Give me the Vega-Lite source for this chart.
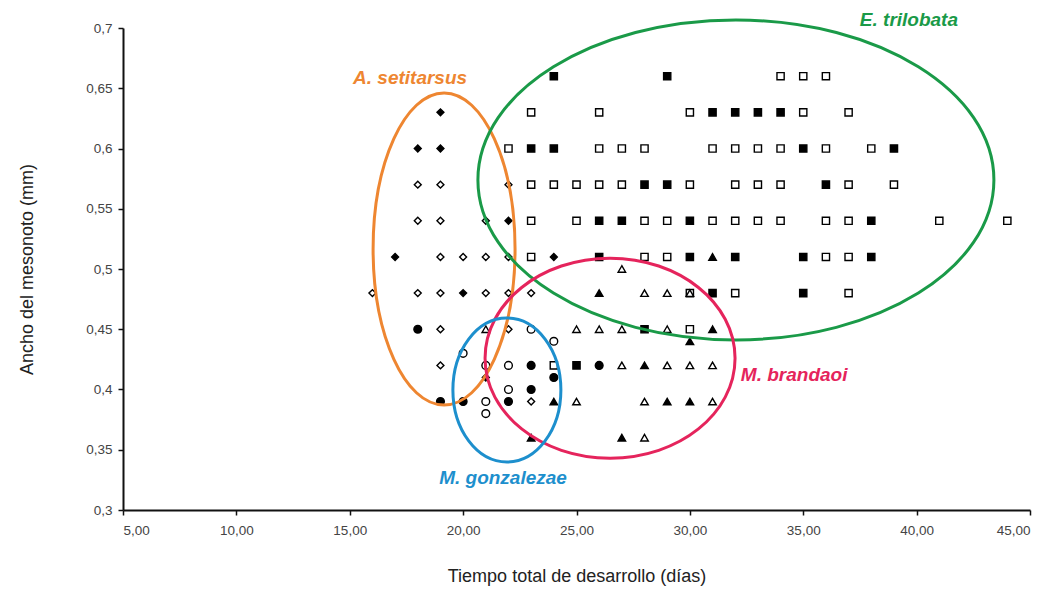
{
  "$schema": "https://vega.github.io/schema/vega-lite/v6.json",
  "autosize": {"type": "none"},
  "width": 907,
  "height": 482,
  "padding": {"left": 123, "top": 28, "right": 26, "bottom": 91},
  "background": "white",
  "config": {
    "view": {"stroke": null},
    "axis": {
      "domainColor": "#111",
      "domainWidth": 2,
      "tickColor": "#111",
      "tickWidth": 1.5,
      "tickSize": 5,
      "grid": false,
      "labelFont": "Liberation Sans",
      "labelFontSize": 13.5,
      "labelColor": "#444",
      "titleFont": "Liberation Sans",
      "titleFontSize": 18,
      "titleFontWeight": "normal",
      "titleColor": "#222"
    }
  },
  "datasets": {
    "pts": [
      {"x": 24, "y": 0.66, "s": "E", "f": 1}, {"x": 29, "y": 0.66, "s": "E", "f": 1}, {"x": 34, "y": 0.66, "s": "E", "f": 0}, {"x": 35, "y": 0.66, "s": "E", "f": 0}, {"x": 36, "y": 0.66, "s": "E", "f": 0},
      {"x": 19, "y": 0.63, "s": "A", "f": 1}, {"x": 23, "y": 0.63, "s": "E", "f": 0}, {"x": 26, "y": 0.63, "s": "E", "f": 0}, {"x": 30, "y": 0.63, "s": "E", "f": 0}, {"x": 31, "y": 0.63, "s": "E", "f": 1}, {"x": 32, "y": 0.63, "s": "E", "f": 1}, {"x": 33, "y": 0.63, "s": "E", "f": 1}, {"x": 34, "y": 0.63, "s": "E", "f": 1}, {"x": 35, "y": 0.63, "s": "E", "f": 0}, {"x": 37, "y": 0.63, "s": "E", "f": 0},
      {"x": 18, "y": 0.6, "s": "A", "f": 1}, {"x": 19, "y": 0.6, "s": "A", "f": 1}, {"x": 22, "y": 0.6, "s": "E", "f": 0}, {"x": 23, "y": 0.6, "s": "E", "f": 1}, {"x": 24, "y": 0.6, "s": "E", "f": 1}, {"x": 26, "y": 0.6, "s": "E", "f": 0}, {"x": 27, "y": 0.6, "s": "E", "f": 0}, {"x": 28, "y": 0.6, "s": "E", "f": 0}, {"x": 31, "y": 0.6, "s": "E", "f": 0}, {"x": 32, "y": 0.6, "s": "E", "f": 0}, {"x": 33, "y": 0.6, "s": "E", "f": 0}, {"x": 34, "y": 0.6, "s": "E", "f": 0}, {"x": 35, "y": 0.6, "s": "E", "f": 1}, {"x": 36, "y": 0.6, "s": "E", "f": 0}, {"x": 38, "y": 0.6, "s": "E", "f": 0}, {"x": 39, "y": 0.6, "s": "E", "f": 1},
      {"x": 18, "y": 0.57, "s": "A", "f": 0}, {"x": 19, "y": 0.57, "s": "A", "f": 0}, {"x": 22, "y": 0.57, "s": "A", "f": 0}, {"x": 23, "y": 0.57, "s": "E", "f": 0}, {"x": 24, "y": 0.57, "s": "E", "f": 0}, {"x": 25, "y": 0.57, "s": "E", "f": 0}, {"x": 26, "y": 0.57, "s": "E", "f": 0}, {"x": 27, "y": 0.57, "s": "E", "f": 0}, {"x": 28, "y": 0.57, "s": "E", "f": 1}, {"x": 29, "y": 0.57, "s": "E", "f": 1}, {"x": 30, "y": 0.57, "s": "E", "f": 0}, {"x": 32, "y": 0.57, "s": "E", "f": 0}, {"x": 33, "y": 0.57, "s": "E", "f": 0}, {"x": 34, "y": 0.57, "s": "E", "f": 0}, {"x": 36, "y": 0.57, "s": "E", "f": 1}, {"x": 37, "y": 0.57, "s": "E", "f": 0}, {"x": 39, "y": 0.57, "s": "E", "f": 0},
      {"x": 18, "y": 0.54, "s": "A", "f": 0}, {"x": 19, "y": 0.54, "s": "A", "f": 0}, {"x": 21, "y": 0.54, "s": "A", "f": 0}, {"x": 22, "y": 0.54, "s": "A", "f": 1}, {"x": 23, "y": 0.54, "s": "E", "f": 0}, {"x": 25, "y": 0.54, "s": "E", "f": 0}, {"x": 26, "y": 0.54, "s": "E", "f": 1}, {"x": 27, "y": 0.54, "s": "E", "f": 1}, {"x": 28, "y": 0.54, "s": "E", "f": 0}, {"x": 29, "y": 0.54, "s": "E", "f": 0}, {"x": 30, "y": 0.54, "s": "E", "f": 1}, {"x": 31, "y": 0.54, "s": "E", "f": 0}, {"x": 32, "y": 0.54, "s": "E", "f": 0}, {"x": 33, "y": 0.54, "s": "E", "f": 0}, {"x": 34, "y": 0.54, "s": "E", "f": 0}, {"x": 36, "y": 0.54, "s": "E", "f": 0}, {"x": 37, "y": 0.54, "s": "E", "f": 0}, {"x": 38, "y": 0.54, "s": "E", "f": 1}, {"x": 41, "y": 0.54, "s": "E", "f": 0}, {"x": 44, "y": 0.54, "s": "E", "f": 0},
      {"x": 17, "y": 0.51, "s": "A", "f": 1}, {"x": 19, "y": 0.51, "s": "A", "f": 0}, {"x": 20, "y": 0.51, "s": "A", "f": 0}, {"x": 21, "y": 0.51, "s": "A", "f": 0}, {"x": 22, "y": 0.51, "s": "A", "f": 0}, {"x": 23, "y": 0.51, "s": "E", "f": 0}, {"x": 24, "y": 0.51, "s": "A", "f": 1}, {"x": 26, "y": 0.51, "s": "E", "f": 1}, {"x": 28, "y": 0.51, "s": "E", "f": 0}, {"x": 29, "y": 0.51, "s": "E", "f": 0}, {"x": 30, "y": 0.51, "s": "E", "f": 1}, {"x": 31, "y": 0.51, "s": "B", "f": 1}, {"x": 32, "y": 0.51, "s": "E", "f": 1}, {"x": 35, "y": 0.51, "s": "E", "f": 1}, {"x": 36, "y": 0.51, "s": "E", "f": 0}, {"x": 37, "y": 0.51, "s": "E", "f": 0}, {"x": 38, "y": 0.51, "s": "E", "f": 1},
      {"x": 27, "y": 0.5, "s": "B", "f": 0},
      {"x": 16, "y": 0.48, "s": "A", "f": 0}, {"x": 18, "y": 0.48, "s": "A", "f": 0}, {"x": 19, "y": 0.48, "s": "A", "f": 0}, {"x": 20, "y": 0.48, "s": "A", "f": 1}, {"x": 21, "y": 0.48, "s": "A", "f": 0}, {"x": 22, "y": 0.48, "s": "A", "f": 0}, {"x": 23, "y": 0.48, "s": "A", "f": 0}, {"x": 26, "y": 0.48, "s": "B", "f": 1}, {"x": 28, "y": 0.48, "s": "B", "f": 0}, {"x": 29, "y": 0.48, "s": "B", "f": 0}, {"x": 30, "y": 0.48, "s": "E", "f": 0}, {"x": 30, "y": 0.48, "s": "B", "f": 0}, {"x": 31, "y": 0.48, "s": "E", "f": 1}, {"x": 32, "y": 0.48, "s": "E", "f": 0}, {"x": 35, "y": 0.48, "s": "E", "f": 1}, {"x": 37, "y": 0.48, "s": "E", "f": 0},
      {"x": 18, "y": 0.45, "s": "G", "f": 1}, {"x": 19, "y": 0.45, "s": "A", "f": 0}, {"x": 21, "y": 0.45, "s": "B", "f": 0}, {"x": 22, "y": 0.45, "s": "A", "f": 0}, {"x": 23, "y": 0.45, "s": "G", "f": 0}, {"x": 25, "y": 0.45, "s": "B", "f": 0}, {"x": 26, "y": 0.45, "s": "B", "f": 0}, {"x": 27, "y": 0.45, "s": "B", "f": 0}, {"x": 28, "y": 0.45, "s": "E", "f": 1}, {"x": 29, "y": 0.45, "s": "B", "f": 0}, {"x": 30, "y": 0.45, "s": "E", "f": 0}, {"x": 31, "y": 0.45, "s": "B", "f": 1},
      {"x": 30, "y": 0.44, "s": "B", "f": 1}, {"x": 24, "y": 0.44, "s": "G", "f": 0},
      {"x": 20, "y": 0.43, "s": "G", "f": 0},
      {"x": 19, "y": 0.42, "s": "A", "f": 0}, {"x": 21, "y": 0.42, "s": "G", "f": 0}, {"x": 22, "y": 0.42, "s": "G", "f": 0}, {"x": 23, "y": 0.42, "s": "G", "f": 1}, {"x": 24, "y": 0.42, "s": "E", "f": 0}, {"x": 25, "y": 0.42, "s": "E", "f": 1}, {"x": 26, "y": 0.42, "s": "G", "f": 1}, {"x": 27, "y": 0.42, "s": "B", "f": 0}, {"x": 28, "y": 0.42, "s": "B", "f": 1}, {"x": 29, "y": 0.42, "s": "B", "f": 0}, {"x": 30, "y": 0.42, "s": "B", "f": 0}, {"x": 31, "y": 0.42, "s": "B", "f": 0},
      {"x": 21, "y": 0.41, "s": "A", "f": 1}, {"x": 24, "y": 0.41, "s": "G", "f": 1},
      {"x": 22, "y": 0.4, "s": "G", "f": 0}, {"x": 23, "y": 0.4, "s": "G", "f": 1},
      {"x": 19, "y": 0.39, "s": "G", "f": 1}, {"x": 20, "y": 0.39, "s": "G", "f": 1}, {"x": 21, "y": 0.39, "s": "G", "f": 0}, {"x": 22, "y": 0.39, "s": "G", "f": 1}, {"x": 23, "y": 0.39, "s": "A", "f": 0}, {"x": 24, "y": 0.39, "s": "B", "f": 1}, {"x": 25, "y": 0.39, "s": "B", "f": 0}, {"x": 28, "y": 0.39, "s": "B", "f": 0}, {"x": 29, "y": 0.39, "s": "B", "f": 1}, {"x": 30, "y": 0.39, "s": "B", "f": 1}, {"x": 31, "y": 0.39, "s": "B", "f": 0},
      {"x": 21, "y": 0.38, "s": "G", "f": 0},
      {"x": 23, "y": 0.36, "s": "B", "f": 1}, {"x": 27, "y": 0.36, "s": "B", "f": 1}, {"x": 28, "y": 0.36, "s": "B", "f": 0}
    ],
    "grupos": [
      {"grupo": "A. setitarsus", "cx": 19.16, "cy": 0.5166, "lx": 17.66, "ly": 0.6585},
      {"grupo": "E. trilobata", "cx": 32.03, "cy": 0.5739, "lx": 39.66, "ly": 0.7066},
      {"grupo": "M. brandaoi", "cx": 26.48, "cy": 0.426, "lx": 34.6, "ly": 0.412},
      {"grupo": "M. gonzalezae", "cx": 21.93, "cy": 0.3996, "lx": 21.76, "ly": 0.3266}
    ]
  },
  "layer": [
    {
      "data": {"name": "pts"},
      "mark": {"type": "point", "filled": true, "stroke": "#000", "strokeWidth": 1.4, "opacity": 1},
      "encoding": {
        "x": {
          "field": "x", "type": "quantitative",
          "scale": {"domain": [5, 45], "nice": false, "zero": false},
          "axis": {
            "values": [5, 10, 15, 20, 25, 30, 35, 40, 45],
            "labelExpr": "replace(format(datum.value, '.2f'), '.', ',')",
            "labelPadding": 8,
            "title": "Tiempo total de desarrollo (días)",
            "titlePadding": 31
          }
        },
        "y": {
          "field": "y", "type": "quantitative",
          "scale": {"domain": [0.3, 0.7], "nice": false, "zero": false},
          "axis": {
            "values": [0.3, 0.35, 0.4, 0.45, 0.5, 0.55, 0.6, 0.65, 0.7],
            "labelExpr": "replace(format(datum.value, '.2~f'), '.', ',')",
            "labelPadding": 6,
            "title": "Ancho del mesonoto (mm)",
            "titlePadding": 49
          }
        },
        "shape": {
          "field": "s", "type": "nominal",
          "scale": {"domain": ["A", "E", "B", "G"], "range": ["diamond", "square", "triangle-up", "circle"]},
          "legend": null
        },
        "size": {
          "field": "s", "type": "ordinal",
          "scale": {"domain": ["A", "E", "B", "G"], "range": [48, 60, 55, 72]},
          "legend": null
        },
        "fill": {
          "condition": {"test": "datum.f == 1", "value": "#000"},
          "value": "transparent"
        }
      }
    },
    {
      "data": {"name": "grupos"},
      "transform": [{"filter": "datum.grupo == 'A. setitarsus'"}],
      "mark": {"type": "point", "filled": false, "stroke": "#EE8631", "strokeWidth": 3, "opacity": 1, "size": 97344,
        "shape": "M -0.455 0 C -0.455 -0.5523 -0.2513 -1 0 -1 C 0.2513 -1 0.455 -0.5523 0.455 0 C 0.455 0.5523 0.2513 1 0 1 C -0.2513 1 -0.455 0.5523 -0.455 0 Z"},
      "encoding": {"x": {"field": "cx", "type": "quantitative"}, "y": {"field": "cy", "type": "quantitative"}}
    },
    {
      "data": {"name": "grupos"},
      "transform": [{"filter": "datum.grupo == 'E. trilobata'"}],
      "mark": {"type": "point", "filled": false, "stroke": "#1A9A48", "strokeWidth": 3, "opacity": 1, "size": 266256,
        "shape": "M -1 0 C -1 -0.3424 -0.5523 -0.62 0 -0.62 C 0.5523 -0.62 1 -0.3424 1 0 C 1 0.3424 0.5523 0.62 0 0.62 C -0.5523 0.62 -1 0.3424 -1 0 Z"},
      "encoding": {"x": {"field": "cx", "type": "quantitative"}, "y": {"field": "cy", "type": "quantitative"}}
    },
    {
      "data": {"name": "grupos"},
      "transform": [{"filter": "datum.grupo == 'M. brandaoi'"}],
      "mark": {"type": "point", "filled": false, "stroke": "#E5245C", "strokeWidth": 3, "opacity": 1, "size": 62500,
        "shape": "M -1 0 C -1 -0.4418 -0.5523 -0.8 0 -0.8 C 0.5523 -0.8 1 -0.4418 1 0 C 1 0.4418 0.5523 0.8 0 0.8 C -0.5523 0.8 -1 0.4418 -1 0 Z"},
      "encoding": {"x": {"field": "cx", "type": "quantitative"}, "y": {"field": "cy", "type": "quantitative"}}
    },
    {
      "data": {"name": "grupos"},
      "transform": [{"filter": "datum.grupo == 'M. gonzalezae'"}],
      "mark": {"type": "point", "filled": false, "stroke": "#1D8FCD", "strokeWidth": 3, "opacity": 1, "size": 20736,
        "shape": "M -0.75 0 C -0.75 -0.5523 -0.4142 -1 0 -1 C 0.4142 -1 0.75 -0.5523 0.75 0 C 0.75 0.5523 0.4142 1 0 1 C -0.4142 1 -0.75 0.5523 -0.75 0 Z"},
      "encoding": {"x": {"field": "cx", "type": "quantitative"}, "y": {"field": "cy", "type": "quantitative"}}
    },
    {
      "data": {"name": "grupos"},
      "mark": {"type": "text", "font": "Liberation Sans", "fontSize": 19, "fontWeight": "bold", "fontStyle": "italic", "align": "center", "baseline": "middle"},
      "encoding": {
        "x": {"field": "lx", "type": "quantitative"},
        "y": {"field": "ly", "type": "quantitative"},
        "text": {"field": "grupo"},
        "color": {
          "field": "grupo", "type": "nominal",
          "scale": {"domain": ["A. setitarsus", "E. trilobata", "M. brandaoi", "M. gonzalezae"], "range": ["#EE8631", "#1A9A48", "#E5245C", "#1D8FCD"]},
          "legend": null
        }
      }
    }
  ]
}
